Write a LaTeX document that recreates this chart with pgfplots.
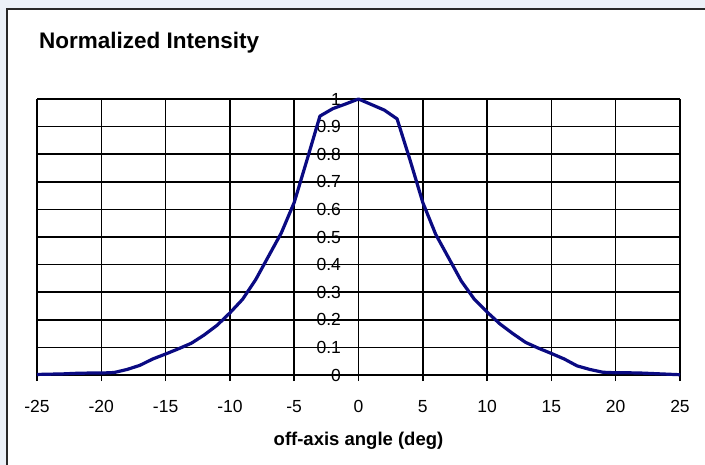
\documentclass[border=0pt]{standalone}
\usepackage{pgfplots}
\pgfplotsset{compat=1.18}
\usepackage{fontspec}
\setmainfont{Liberation Sans}
\definecolor{bg}{RGB}{236,241,248}
\definecolor{framec}{RGB}{40,40,40}
\definecolor{curvec}{RGB}{10,10,130}
\begin{document}
\begin{tikzpicture}
\useasboundingbox (0pt,0pt) rectangle (705pt,-465pt);
\fill[bg] (0pt,0pt) rectangle (705pt,-465pt);
\fill[white] (7pt,-9pt) rectangle (705pt,-465pt);
\draw[framec, line width=1.3pt] (7pt,-465pt) -- (7pt,-9pt) -- (705pt,-9pt);
\node[anchor=base west, font=\fontsize{22.5}{26}\selectfont\bfseries, inner sep=0pt] at (39pt,-48.3pt) {Normalized Intensity};
\node[anchor=base, font=\fontsize{18.5}{22}\selectfont\bfseries, inner sep=0pt] at (358.5pt,-446pt) {off-axis angle (deg)};
\begin{axis}[
  at={(37pt,-375pt)}, anchor=south west, scale only axis,
  width=643pt, height=276pt,
  xmin=-25, xmax=25, ymin=0, ymax=1,
  axis x line=bottom, axis y line=center,
  axis line style={-, black, line width=1.5pt},
  hide obscured x ticks=false, hide obscured y ticks=false,
  xtick={-25,-20,-15,-10,-5,0,5,10,15,20,25},
  xticklabels={-25,-20,-15,-10,-5,0,5,10,15,20,25},
  ytick={0,0.1,0.2,0.3,0.4,0.5,0.6,0.7,0.8,0.9,1},
  yticklabels={0,0.1,0.2,0.3,0.4,0.5,0.6,0.7,0.8,0.9,1},
  grid=major, grid style={black, line width=1.5pt},
  major tick length=6pt, tick style={black, line width=1.5pt},
  tick align=outside,
  x tick label style={font=\fontsize{17.5}{20}\selectfont, anchor=north, yshift=-16pt},
  y tick label style={font=\fontsize{17.5}{20}\selectfont, anchor=east, xshift=-8pt},
  clip=false,
]
\addplot[curvec, line width=3.2pt, line join=round] coordinates {
(-25,0.002) (-24,0.003) (-23,0.004) (-22,0.006) (-21,0.007) (-20,0.007)
(-19,0.009) (-18,0.02) (-17,0.035) (-16,0.058) (-15,0.076) (-14,0.095)
(-13,0.115) (-12,0.145) (-11,0.18) (-10,0.225) (-9,0.275) (-8,0.345)
(-7,0.43) (-6,0.515) (-5,0.625) (-4,0.78) (-3,0.938) (-2,0.965) (-1,0.982)
(0,1.0) (1,0.98) (2,0.96) (3,0.928) (4,0.78) (5,0.625) (6,0.51) (7,0.425)
(8,0.34) (9,0.275) (10,0.228) (11,0.185) (12,0.15) (13,0.118) (14,0.097)
(15,0.078) (16,0.058) (17,0.033) (18,0.02) (19,0.01) (20,0.008) (21,0.008)
(22,0.007) (23,0.005) (24,0.003) (25,0.001)
};
\end{axis}
\end{tikzpicture}
\end{document}
